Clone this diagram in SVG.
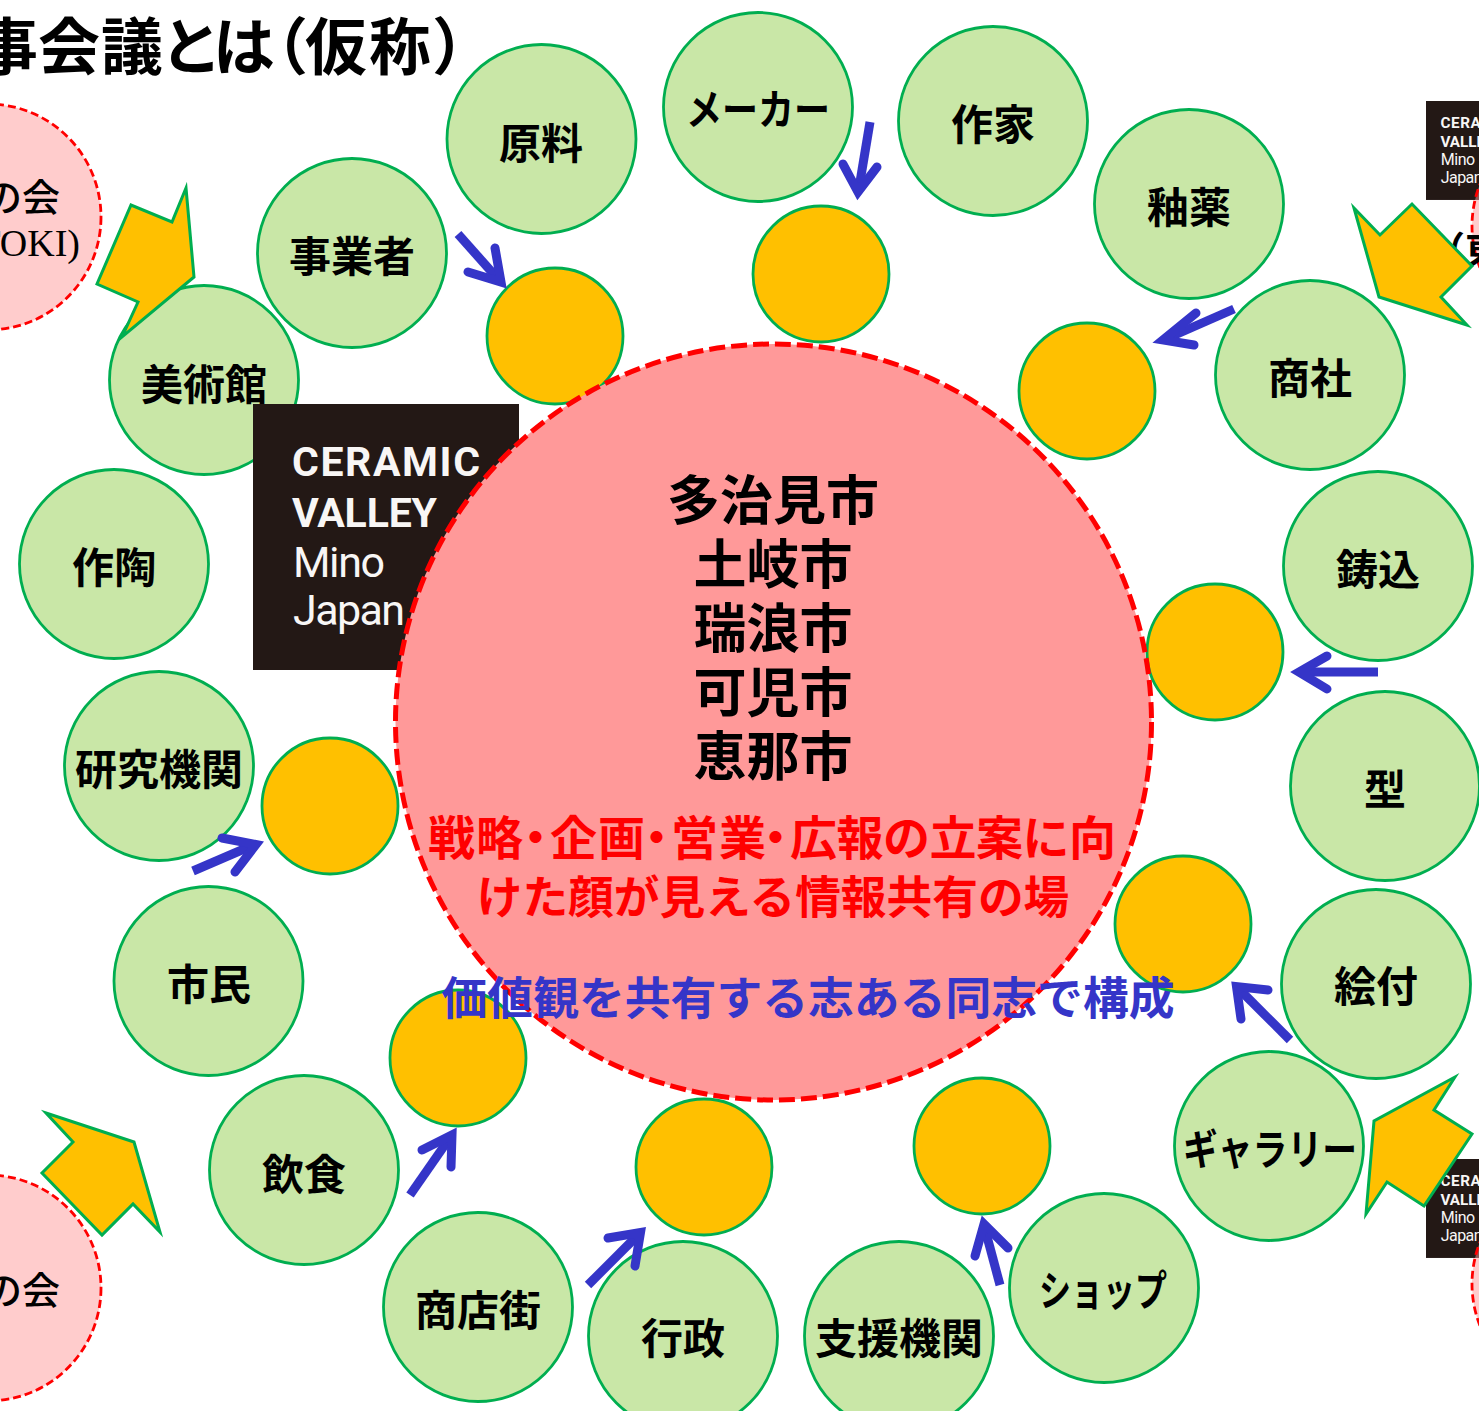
<svg xmlns="http://www.w3.org/2000/svg" width="1479" height="1411" viewBox="0 0 1479 1411">
<style>
text{font-family:"Noto Sans CJK JP","Liberation Serif",serif;font-weight:700;fill:#000;text-anchor:middle}
.n{fill:#c9e7a7;stroke:#00ae50;stroke-width:2.8}
.o{fill:#ffc000;stroke:#00ae50;stroke-width:2.8}
.l{font-size:42px}
.p{fill:#ff9999;fill-opacity:.5;stroke:#ff0000;stroke-width:2.8;stroke-dasharray:8 4}
.big{fill:#ff9999;stroke:#ff0000;stroke-width:5;stroke-dasharray:16 6}
.fat{fill:#ffc000;stroke:#00ae50;stroke-width:3;stroke-linejoin:miter;stroke-miterlimit:10}
.a{fill:none;stroke:#3535c8;stroke-width:9;stroke-linejoin:round}
.ah{fill:none;stroke:#3535c8;stroke-width:9;stroke-linecap:round;stroke-linejoin:miter;stroke-miterlimit:10}
.c{font-size:53px}
.r{font-size:45.7px;fill:#ff0000}
.r1{font-size:47px;text-anchor:start}
.b{font-size:45.8px;fill:#3535c8}
.lb{fill:#231815}
.lt{font-family:Roboto,"Liberation Sans",sans-serif;font-size:41px;fill:#f8f6f5;text-anchor:start;font-weight:700}
.lr{font-size:43px;font-weight:400}
.s{font-size:38px;font-weight:500}
.t{font-size:62px;text-anchor:start}
</style>
<g id="title"><text class="t" x="-24 38 101 160 213 246 305 369 432" y="70">事会議とは（仮称）</text></g>
<g id="orange">
<circle class="o" cx="555" cy="336" r="68"/><circle class="o" cx="821" cy="274" r="68"/><circle class="o" cx="1087" cy="391" r="68"/><circle class="o" cx="1215" cy="652" r="68"/><circle class="o" cx="1183" cy="924" r="68"/><circle class="o" cx="982" cy="1146" r="68"/><circle class="o" cx="704" cy="1167" r="68"/><circle class="o" cx="458" cy="1058" r="68"/><circle class="o" cx="330" cy="806" r="68"/>
</g>
<g id="n-museum"><circle class="n" cx="204" cy="380" r="94.5"/><text class="l" x="204" y="400">美術館</text></g>
<g id="logo-main"><rect class="lb" x="253" y="404" width="266" height="266"/>
<text class="lt" x="292" y="476" textLength="188">CERAMIC</text>
<text class="lt" x="292" y="527" textLength="145">VALLEY</text>
<text class="lt lr" x="293" y="577" textLength="92">Mino</text>
<text class="lt lr" x="293" y="625" textLength="112">Japan</text></g>
<g id="n-center"><circle class="big" cx="773.5" cy="722" r="378"/>
<text class="c" x="773" y="520">多治見市</text><text class="c" x="773" y="584">土岐市</text><text class="c" x="773" y="648">瑞浪市</text><text class="c" x="773" y="712">可児市</text><text class="c" x="773" y="776">恵那市</text>
<text class="r r1" x="428 476 512 550 598 633 671 719 752 790 836.5 883 929.5 976 1022.5 1069" y="855">戦略・企画・営業・広報の立案に向</text>
<text class="r" x="773" y="914">けた顔が見える情報共有の場</text>
<text class="b" x="808" y="1015" textLength="733">価値観を共有する志ある同志で構成</text></g>
<g id="n-material"><circle class="n" cx="541.5" cy="139" r="94.5"/><text class="l" x="541" y="159">原料</text></g>
<g id="n-maker"><circle class="n" cx="758" cy="107" r="94.5"/><text class="l" x="758" y="125" textLength="144" lengthAdjust="spacingAndGlyphs">メーカー</text></g>
<g id="n-artist"><circle class="n" cx="993" cy="121" r="94.5"/><text class="l" x="993" y="140">作家</text></g>
<g id="n-glaze"><circle class="n" cx="1189" cy="204" r="94.5"/><text class="l" x="1189" y="223">釉薬</text></g>
<g id="n-trading"><circle class="n" cx="1310" cy="375" r="94.5"/><text class="l" x="1310" y="394">商社</text></g>
<g id="n-casting"><circle class="n" cx="1378" cy="566" r="94.5"/><text class="l" x="1378" y="585">鋳込</text></g>
<g id="n-mold"><circle class="n" cx="1385" cy="786" r="94.5"/><text class="l" x="1385" y="805">型</text></g>
<g id="n-paint"><circle class="n" cx="1376" cy="984" r="94.5"/><text class="l" x="1376" y="1002">絵付</text></g>
<g id="n-gallery"><circle class="n" cx="1269" cy="1146" r="94.5"/><text class="l" x="1270" y="1165" textLength="174" lengthAdjust="spacingAndGlyphs">ギャラリー</text></g>
<g id="n-shop"><circle class="n" cx="1104" cy="1288" r="94.5"/><text class="l" x="1103" y="1306" textLength="128" lengthAdjust="spacingAndGlyphs">ショップ</text></g>
<g id="n-support"><circle class="n" cx="899" cy="1336" r="94.5"/><text class="l" x="899" y="1354">支援機関</text></g>
<g id="n-gov"><circle class="n" cx="683" cy="1336" r="94.5"/><text class="l" x="683" y="1354">行政</text></g>
<g id="n-street"><circle class="n" cx="478" cy="1307" r="94.5"/><text class="l" x="478" y="1326">商店街</text></g>
<g id="n-food"><circle class="n" cx="304" cy="1170" r="94.5"/><text class="l" x="304" y="1190">飲食</text></g>
<g id="n-citizen"><circle class="n" cx="208.500" cy="981" r="94.5"/><text class="l" x="209" y="1000">市民</text></g>
<g id="n-research"><circle class="n" cx="159" cy="766" r="94.5"/><text class="l" x="159" y="785">研究機関</text></g>
<g id="n-pottery"><circle class="n" cx="114" cy="564" r="94.5"/><text class="l" x="114" y="583">作陶</text></g>
<g id="n-business"><circle class="n" cx="352" cy="253" r="94.5"/><text class="l" x="352" y="272">事業者</text></g>
<g id="logo-top"><g transform="translate(1426 101) scale(.372) translate(-253 -404)"><rect class="lb" x="253" y="404" width="266" height="266"/><text class="lt" x="292" y="476" textLength="188">CERAMIC</text><text class="lt" x="292" y="527" textLength="145">VALLEY</text><text class="lt lr" x="293" y="577" textLength="92">Mino</text><text class="lt lr" x="293" y="625" textLength="112">Japan</text></g></g>
<g id="logo-bottom"><g transform="translate(1426 1159) scale(.372) translate(-253 -404)"><rect class="lb" x="253" y="404" width="266" height="266"/><text class="lt" x="292" y="476" textLength="188">CERAMIC</text><text class="lt" x="292" y="527" textLength="145">VALLEY</text><text class="lt lr" x="293" y="577" textLength="92">Mino</text><text class="lt lr" x="293" y="625" textLength="112">Japan</text></g></g>
<g id="n-toki"><circle class="p" cx="-12" cy="217" r="113"/><text class="s" x="60" y="211" style="text-anchor:end">の会</text><text class="s" x="80" y="256" style="text-anchor:end;font-family:'Liberation Serif',serif;font-weight:400">TOKI)</text></g>
<g id="n-bl"><circle class="p" cx="-12" cy="1288" r="113"/><text class="s" x="60" y="1304" style="text-anchor:end">の会</text></g>
<g id="n-tr"><circle class="p" cx="1585" cy="226" r="113"/><text class="s" x="1427" y="264" style="text-anchor:start;font-weight:700">（東</text></g>
<g id="n-br"><circle class="p" cx="1585" cy="1284" r="113"/></g>
<g id="connectors">
<polygon class="fat" points="186,188 194,277 122,337 138,302 97,284 131,205 172,222"/>
<polygon class="fat" points="1354,208 1380,235 1412,204 1472,266 1441,297 1467,325 1379,297"/>
<polygon class="fat" points="1455,1077 1434,1110 1472,1134 1424,1206 1387,1182 1366,1214 1374,1121"/>
<polygon class="fat" points="46,1113 134,1142 160,1232 133,1204 102,1235 42,1173 73,1142"/>
<g>
<path class="a" d="M458 234L498 279"/><path class="ah" d="M495 248L501 282L468 272"/>
<path class="a" d="M870 122L859 188"/><path class="ah" d="M877 167L858 192L843 164"/>
<path class="a" d="M1234 309L1168 338"/><path class="ah" d="M1196 313L1163 340L1194 345"/>
<path class="a" d="M1378 672L1304 672"/><path class="ah" d="M1327 656L1299 672L1327 689"/>
<path class="a" d="M1290 1040L1240 990"/><path class="ah" d="M1268 990L1236.500 986.500L1241 1019"/>
<path class="a" d="M1000 1285L985 1229"/><path class="ah" d="M975 1256L984 1224L1008 1248"/>
<path class="a" d="M588 1285L637 1236"/><path class="ah" d="M608 1238L640.500 1232.500L635 1266"/>
<path class="a" d="M410 1195L449 1139"/><path class="ah" d="M422 1150L452 1135L451 1167"/>
<path class="a" d="M193 871L251 846"/><path class="ah" d="M222 838L256 844.500L235 872"/>
</g>
</g>
</svg>
